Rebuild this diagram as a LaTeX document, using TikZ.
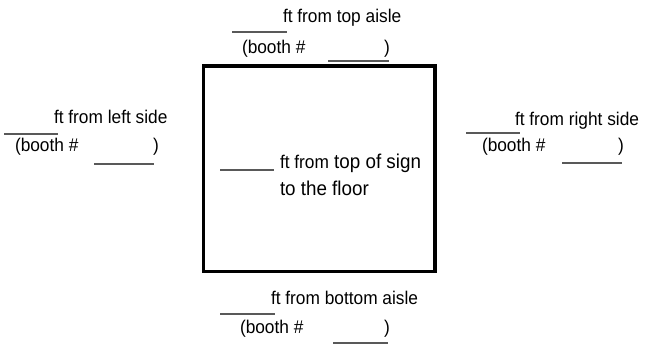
\documentclass[tikz,border=0pt]{standalone}
\usepackage{fontspec}
\setmainfont{Liberation Sans}[FakeStretch=0.94]
\begin{document}
\begin{tikzpicture}[x=1pt,y=-1pt,
  lbl/.style={anchor=base west,inner sep=0pt,outer sep=0pt,font=\fontsize{18.4}{21}\selectfont},
  big/.style={anchor=base west,inner sep=0pt,outer sep=0pt,font=\fontsize{20}{23}\selectfont},
  blank/.style={draw=black!65,line width=1.4pt},
  boothbox/.style={draw=black,line width=3.6pt}]
\useasboundingbox (0,0) rectangle (653,350);
% sign box
\coordinate (b1) at (203.4,65.8);
\coordinate (b2) at (435.0,271.4);
\draw[boothbox] (b1) rectangle (b2);
% top
\draw[blank] (232,32) -- (287,32);
\node[lbl] (tA) at (283,23) {ft from top aisle};
\node[lbl] (tB) at (242,54) {(booth \#};
\node[lbl] (tC) at (384,54) {)};
\draw[blank] (328,61) -- (389,61);
% left
\draw[blank] (4,134) -- (58,134);
\node[lbl] (lA) at (54,124) {ft from left side};
\node[lbl] (lB) at (15,152) {(booth \#};
\node[lbl] (lC) at (153,152) {)};
\draw[blank] (94,164) -- (154,164);
% right
\draw[blank] (466,133) -- (520,133);
\node[lbl] (rA) at (515,125) {ft from right side};
\node[lbl] (rB) at (482,152) {(booth \#};
\node[lbl] (rC) at (618,152) {)};
\draw[blank] (562,163) -- (622,163);
% bottom
\draw[blank] (220,314) -- (275,314);
\node[lbl] (bA) at (271,304) {ft from bottom aisle};
\node[lbl] (bB) at (240,333) {(booth \#};
\node[lbl] (bC) at (384,333) {)};
\draw[blank] (333,343) -- (388,343);
% center
\draw[blank] (220,170) -- (274,170);
\node[lbl] (cA) at (280,168) {ft from};
\node[big] (cB) at (cA.base east) {\ top of sign};
\node[big] (cC) at (280,195) {to the floor};
\end{tikzpicture}
\end{document}
